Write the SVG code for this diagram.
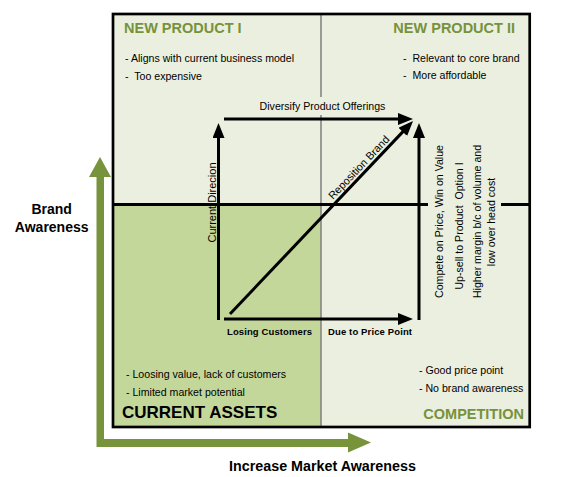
<svg xmlns="http://www.w3.org/2000/svg" width="562" height="477" viewBox="0 0 562 477">
  <style>
    text { font-family: "Liberation Sans", Arial, sans-serif; fill: #000; }
    .body { font-size: 10.6px; }
    .head { font-size: 14.5px; font-weight: bold; fill: #76923c; }
    .axis { font-size: 14px; font-weight: bold; }
    .small { font-size: 9.5px; font-weight: bold; }
    .conn { stroke: #000; stroke-width: 3; fill: none; }
  </style>
  <defs>
    <marker id="ah" markerUnits="userSpaceOnUse" markerWidth="15" markerHeight="12" viewBox="0 0 15 12" refX="10" refY="6" orient="auto">
      <path d="M0,0 L15,6 L0,12 Z" fill="#000"/>
    </marker>
  </defs>
  <rect width="562" height="477" fill="#fff"/>

  <g id="matrix">
    <rect x="113" y="14" width="416.7" height="413" fill="#ebefdf"/>
    <rect x="113" y="204.5" width="208" height="222.5" fill="#c4d79b"/>
    <line x1="321" y1="14" x2="321" y2="97" stroke="#7f7f7f" stroke-width="1.5"/>
    <line x1="321" y1="115" x2="321" y2="427" stroke="#7f7f7f" stroke-width="1.5"/>
    <line x1="113" y1="204.5" x2="428" y2="204.5" stroke="#000" stroke-width="3"/>
    <line x1="501" y1="204.5" x2="529.7" y2="204.5" stroke="#000" stroke-width="3"/>
    <rect x="113" y="14" width="416.7" height="413" fill="none" stroke="#000" stroke-width="2.7"/>
  </g>

  <g id="new-product-1">
    <text class="head" x="124" y="33">NEW PRODUCT I</text>
    <text class="body" x="125" y="62">- Aligns with current business model</text>
    <text class="body" x="125" y="80" xml:space="preserve">-  Too expensive</text>
  </g>

  <g id="new-product-2">
    <text class="head" x="515" y="33" text-anchor="end">NEW PRODUCT II</text>
    <text class="body" x="403" y="62" xml:space="preserve">-  Relevant to core brand</text>
    <text class="body" x="403" y="79" xml:space="preserve">-  More affordable</text>
  </g>

  <g id="current-assets">
    <text class="body" x="126" y="378">- Loosing value, lack of customers</text>
    <text class="body" x="126" y="396">- Limited market potential</text>
    <text x="122" y="417.5" style="font-size:17px;font-weight:bold">CURRENT ASSETS</text>
  </g>

  <g id="competition">
    <text class="body" x="419" y="374">- Good price point</text>
    <text class="body" x="419" y="392">- No brand awareness</text>
    <text class="head" x="524" y="419" text-anchor="end">COMPETITION</text>
  </g>

  <g id="axes">
    <path d="M96.5,177 L96.5,447 L348,447 L348,452.5 L371,442.5 L348,432.5 L348,439 L104,439 L104,177 L111,177 L100,157 L89,177 Z" fill="#77933c"/>
    <text class="axis" x="51.7" y="214" text-anchor="middle">Brand</text>
    <text class="axis" x="51.7" y="231.7" text-anchor="middle">Awareness</text>
    <text class="axis" x="322.5" y="471" text-anchor="middle" style="font-size:14.3px">Increase Market Awareness</text>
  </g>

  <g id="connectors">
    <line class="conn" x1="224" y1="119" x2="408" y2="119" marker-end="url(#ah)"/>
    <line class="conn" x1="218.5" y1="320" x2="218.5" y2="128" marker-end="url(#ah)"/>
    <line class="conn" x1="419" y1="320" x2="419" y2="128" marker-end="url(#ah)"/>
    <line class="conn" x1="224" y1="319" x2="408" y2="319" marker-end="url(#ah)"/>
    <line class="conn" x1="230" y1="314" x2="409.6" y2="124.6" stroke-width="2.6" marker-end="url(#ah)"/>
  </g>

  <g id="labels">
    <text class="body" x="322.5" y="110" text-anchor="middle">Diversify Product Offerings</text>
    <text class="body" transform="translate(216,202.5) rotate(-90)" text-anchor="middle" style="font-size:11px">Current Direcion</text>
    <text class="body" transform="translate(361.5,170) rotate(-46.5)" text-anchor="middle" style="font-size:10.8px">Reposition Brand</text>
    <text class="small" x="269.5" y="335" text-anchor="middle" textLength="85" lengthAdjust="spacing">Losing Customers</text>
    <text class="small" x="370" y="335" text-anchor="middle" textLength="84" lengthAdjust="spacing">Due to Price Point</text>
    <text class="body" transform="translate(442.8,221.5) rotate(-90)" text-anchor="middle">Compete on Price, Win on Value</text>
    <text class="body" transform="translate(462.8,226) rotate(-90)" text-anchor="middle" xml:space="preserve">Up-sell to Product  Option I</text>
    <text class="body" transform="translate(481.3,221.5) rotate(-90)" text-anchor="middle">Higher margin b/c of volume and</text>
    <text class="body" transform="translate(494.6,222) rotate(-90)" text-anchor="middle">low over head cost</text>
  </g>
</svg>
